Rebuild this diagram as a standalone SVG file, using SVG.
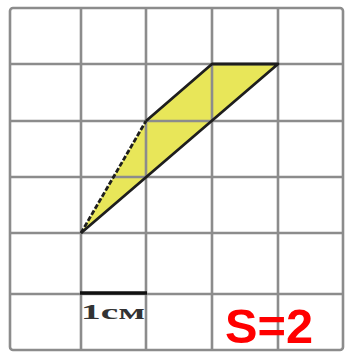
<svg xmlns="http://www.w3.org/2000/svg" width="345" height="354" viewBox="0 0 345 354">
<style>
.g{stroke:#8c8c8c;stroke-width:2.6;fill:none}
.fig{fill:#e4e23c;opacity:0.85}
.edge{stroke:#1e1e1e;stroke-width:2.8;fill:none;stroke-linejoin:round}
</style>
<rect width="345" height="354" fill="#ffffff"/>
<g id="figure-fill">
<polygon class="fig" points="81,233 146,121 212,64 278,64"/>
</g>
<g id="grid">
<rect x="10" y="8" width="333" height="342" rx="3" class="g" stroke="#a0a0a0"/>
<line class="g" x1="81" y1="8" x2="81" y2="350"/>
<line class="g" x1="146" y1="8" x2="146" y2="350"/>
<line class="g" x1="212" y1="8" x2="212" y2="350"/>
<line class="g" x1="278" y1="8" x2="278" y2="350"/>
<line class="g" x1="10" y1="64" x2="343" y2="64"/>
<line class="g" x1="10" y1="121" x2="343" y2="121"/>
<line class="g" x1="10" y1="177" x2="343" y2="177"/>
<line class="g" x1="10" y1="233" x2="343" y2="233"/>
<line class="g" x1="10" y1="294" x2="343" y2="294"/>
</g>
<g id="figure-edges">
<polyline class="edge" stroke-dasharray="5,2" points="81,233 146,121"/>
<polyline class="edge" points="146,121 212,64 278,64 81,233"/>
</g>
<g id="scale">
<line x1="80" y1="293" x2="147" y2="293" stroke="#111" stroke-width="3.5"/>
<text x="81" y="319" font-family="Liberation Serif, serif" font-size="20" font-weight="bold" fill="#333" textLength="64" lengthAdjust="spacingAndGlyphs">1см</text>
</g>
<g id="label">
<text x="225" y="343" font-family="Liberation Sans, Arial, sans-serif" font-size="48" font-weight="bold" fill="#ff0000" textLength="88" lengthAdjust="spacingAndGlyphs">S=2</text>
</g>
</svg>
